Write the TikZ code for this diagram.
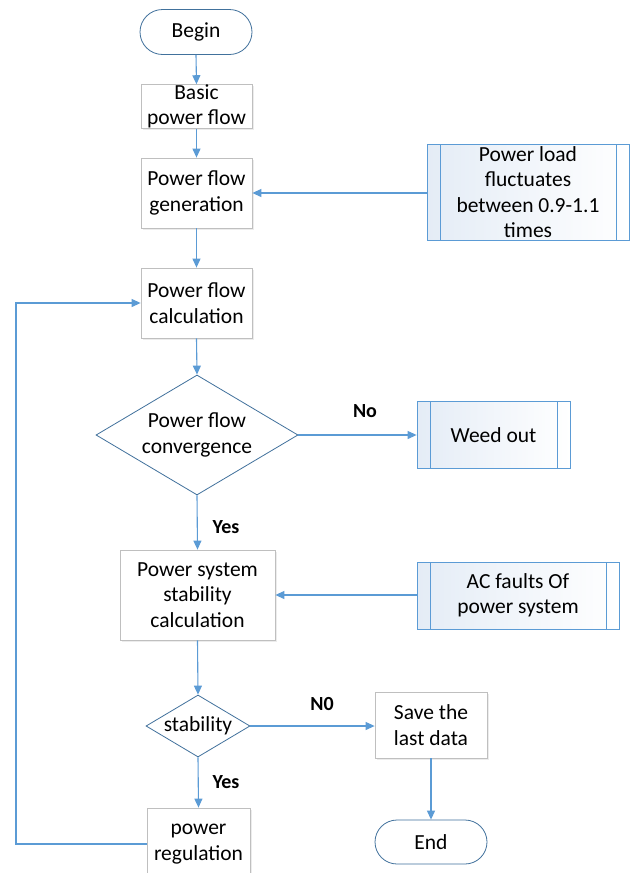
\documentclass[tikz,border=0pt]{standalone}
\usepackage{fontspec}
\setmainfont{Carlito}
\usetikzlibrary{arrows.meta,shapes.geometric,shapes.misc,shadows}
\definecolor{arr}{HTML}{5B9BD5}
\definecolor{dk}{HTML}{41719C}
\definecolor{gry}{HTML}{BFBFBF}
\definecolor{lb}{HTML}{E4ECF6}
\tikzset{
  txt/.style={font=\fontsize{21.5}{25.5}\selectfont, align=center},
  procbox/.style={txt, draw=gry, line width=0.8pt, fill=white, inner sep=0pt,
    drop shadow={opacity=0.15, shadow xshift=1.5pt, shadow yshift=-1.5pt}},
  term/.style={txt, draw=dk, line width=0.8pt, fill=white, rounded rectangle, inner sep=0pt},
  dec/.style={draw=dk, line width=0.8pt, fill=white, diamond, inner sep=0pt},
  subbox/.style={txt, draw=arr, line width=0.8pt, left color=lb, right color=white, inner sep=0pt,
    path picture={\draw[arr, line width=0.8pt]
      ([xshift=13pt]path picture bounding box.north west) -- ([xshift=13pt]path picture bounding box.south west)
      ([xshift=-13pt]path picture bounding box.north east) -- ([xshift=-13pt]path picture bounding box.south east);}},
  conn/.style={arr, line width=1.1pt, -{Triangle[width=8pt,length=9pt]}},
  lbl/.style={font=\fontsize{20}{24}\selectfont\bfseries}
}
\begin{document}
\begin{tikzpicture}[x=1pt,y=-1pt]
\clip (0,0) rectangle (634,873);
\fill[white] (0,0) rectangle (634,873);
\node[term, minimum width=112pt, minimum height=45pt] (begin) at (196,32) {Begin};
\node[procbox, minimum width=111pt, minimum height=43pt] (basic) at (196.5,106.5) {Basic\\power flow};
\node[procbox, minimum width=111pt, minimum height=70pt] (gen) at (196.5,193) {Power flow\\generation};
\node[procbox, minimum width=111pt, minimum height=70pt] (calc) at (196.5,303) {Power flow\\calculation};
\node[subbox, minimum width=202pt, minimum height=96pt] (load) at (528,192) {Power load\\fluctuates\\between 0.9-1.1\\times};
\node[dec, minimum width=202pt, minimum height=120pt, label={[txt]center:Power flow\\convergence}] (conv) at (197,435) {};
\node[subbox, minimum width=153pt, minimum height=67pt] (weed) at (493.5,435) {Weed out};
\node[procbox, minimum width=155pt, minimum height=90pt] (scalc) at (197.5,595) {Power system\\stability\\calculation};
\node[subbox, minimum width=202pt, minimum height=67pt] (ac) at (518,595.5) {AC faults Of\\power system};
\node[dec, minimum width=104pt, minimum height=62pt, label={[txt]center:stability}] (stab) at (198,726) {};
\node[procbox, minimum width=112pt, minimum height=66pt] (save) at (431,725) {Save the\\last data};
\node[term, minimum width=112pt, minimum height=44pt] (end) at (431,842) {End};
\node[procbox, minimum width=103pt, minimum height=72pt] (reg) at (198.5,844) {power\\regulation};
\node[lbl] (lno) at (365,411) {No};
\node[lbl] (lyes1) at (226,527) {Yes};
\node[lbl] (lno2) at (322,704) {N0};
\node[lbl] (lyes2) at (226,782) {Yes};
\coordinate (lp) at (16,844);
\draw[conn] (begin.south) -- (basic.north);
\draw[conn] (basic.south) -- (gen.north);
\draw[conn] (gen.south) -- (calc.north);
\draw[conn] (load.west |- gen.east) -- (gen.east);
\draw[conn] (calc.south) -- (conv.north);
\draw[conn] (conv.east) -- (weed.west |- conv.east);
\draw[conn] (conv.south) -- (scalc.north);
\draw[conn] (ac.west |- scalc.east) -- (scalc.east);
\draw[conn] (scalc.south) -- (stab.north);
\draw[conn] (stab.east) -- (save.west |- stab.east);
\draw[conn] (stab.south) -- (reg.north);
\draw[conn] (save.south) -- (end.north);
\draw[conn] (reg.west) -- (lp) |- (calc.west);
\end{tikzpicture}
\end{document}
